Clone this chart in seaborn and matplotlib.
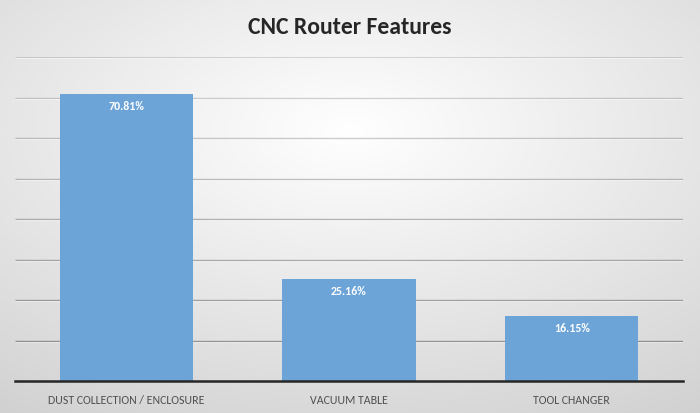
import numpy as np
import matplotlib
matplotlib.use("Agg")
import matplotlib.pyplot as plt
import matplotlib.transforms as mtrans
import seaborn as sns

categories = ["DUST COLLECTION / ENCLOSURE", "VACUUM TABLE", "TOOL CHANGER"]
values = [70.81, 25.16, 16.15]
value_labels = ["70.81%", "25.16%", "16.15%"]
title = "CNC Router Features"

sns.set_theme(style="white")
plt.rcParams['font.family'] = ['Carlito', 'Lato', 'DejaVu Sans']

W, H = 700, 413
fig = plt.figure(figsize=(W / 100, H / 100), dpi=100)

# background gradient
bg = fig.add_axes([0, 0, 1, 1], zorder=-10)
yy, xx = np.mgrid[0:H, 0:W]
dx = (xx - 350) / 350.0 * 0.10
dy = (yy - 130) / 283.0 * 0.15
g = np.clip(1.0 - np.sqrt(dx ** 2 + dy ** 2), 0, 1)
img = np.dstack([g, g, g])
bg.imshow(img, aspect="auto", extent=[0, 1, 0, 1], origin="upper")
bg.set_axis_off()

left, right = 15 / W, 683 / W
bottom, top = (H - 381) / H, (H - 57) / H
ax = fig.add_axes([left, bottom, right - left, top - bottom])
ax.set_facecolor("none")

sns.barplot(x=categories, y=values, color="#6CA4D8", saturation=1, width=0.6,
            linewidth=0, ax=ax, zorder=3)

grid_vals = np.arange(10, 81, 10)
base = mtrans.blended_transform_factory(ax.transAxes, ax.transData)
off = mtrans.offset_copy(base, fig=fig, x=0, y=-1.2, units="dots")
for yv in grid_vals:
    a = 0.34 - (yv - 10) / 70.0 * 0.20
    ax.plot([0, 1], [yv, yv], transform=base, color="black", alpha=a,
            lw=1.0, zorder=1, solid_capstyle="butt")
    ax.plot([0, 1], [yv, yv], transform=off, color="white", alpha=0.8,
            lw=0.8, zorder=0.9, solid_capstyle="butt")
ax.set_ylim(0, 80)
ax.set_xlim(-0.5, 2.5)
ax.tick_params(axis="y", left=False, labelleft=False)

for s in ["top", "right", "left"]:
    ax.spines[s].set_visible(False)
ax.spines["bottom"].set_color("#262626")
ax.spines["bottom"].set_linewidth(1.8)
ax.spines["bottom"].set_zorder(5)

ax.set_xlabel("")
ax.set_ylabel("")
ax.tick_params(axis="x", bottom=False, pad=4, labelsize=8.6, labelcolor="#505050")

for i, (v, lab) in enumerate(zip(values, value_labels)):
    ax.annotate(lab, (i, v), xytext=(0, -5), textcoords="offset points",
                ha="center", va="top", color="white", fontsize=8.6,
                fontweight="bold", zorder=6)

fig.text(0.5, 1 - 28 / H, title, ha="center", va="center", fontsize=17,
         fontweight="bold", color="#262626")

fig.savefig("out.png", dpi=100)
